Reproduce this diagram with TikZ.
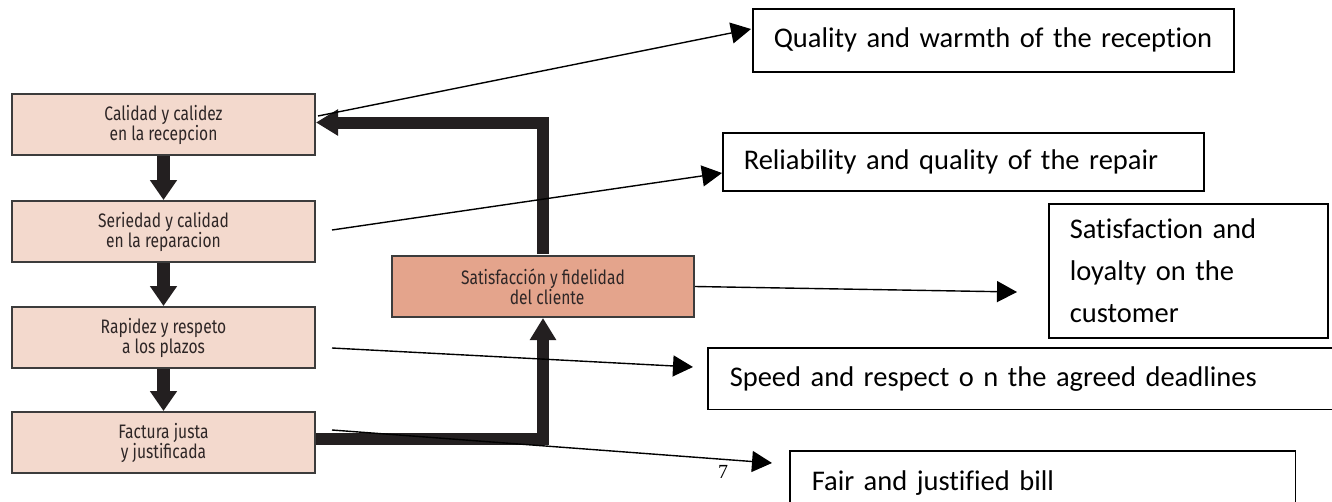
\documentclass[tikz,border=0pt]{standalone}
\usepackage{fontspec}
\setmainfont{Carlito}[Ligatures=NoCommon]
\newfontfamily\dinfont{Fira Sans}[FakeStretch=0.8]
\newfontfamily\numfont{Liberation Serif}
\usetikzlibrary{arrows.meta}
\definecolor{lbox}{HTML}{F3D9CD}
\definecolor{cbox}{HTML}{E4A48C}
\definecolor{dtext}{HTML}{2E2626}
\definecolor{thickc}{HTML}{231F20}
\definecolor{lborder}{HTML}{3C3C3C}
\begin{document}
\begin{tikzpicture}[x=1pt,y=-1pt,
  lstep/.style={draw=lborder,line width=2pt,fill=lbox,minimum width=303pt,minimum height=61pt,
    anchor=north west,align=center,inner sep=0pt,text=dtext,
    font=\dinfont\fontsize{19.5}{20}\selectfont},
  cstep/.style={lstep,fill=cbox,minimum width=302pt},
  rbox/.style={draw=black,line width=1.5pt,anchor=north west,align=left,inner xsep=21pt,inner ysep=0pt,
    font=\fontsize{28.5}{35}\selectfont},
  rboxopen/.style={rbox,draw=none},
  flow/.style={draw=thickc,line width=13pt,-{Triangle[length=20pt,width=26pt]}},
  loop/.style={draw=thickc,line width=12pt,line join=miter,-{Triangle[length=22pt,width=25pt]}},
  thin/.style={draw=black,line width=1.4pt,-{Triangle[length=20pt,width=21pt]}}
]
\useasboundingbox (0,0) rectangle (1332,501);
\fill[white] (0,0) rectangle (1332,501);

% left chain
\node[lstep] (b1) at (11,93)  {Calidad y calidez\\en la recepcion};
\node[lstep] (b2) at (11,200) {Seriedad y calidad\\en la reparacion};
\node[lstep] (b3) at (11,306) {Rapidez y respeto\\a los plazos};
\node[lstep] (b4) at (11,411) {Factura justa\\y justificada};
\node[cstep] (c)  at (391,255) {Satisfacción y fidelidad\\\ \ del cliente};

\draw[flow] (b1.south) -- (b2.north);
\draw[flow] (b2.south) -- (b3.north);
\draw[flow] (b3.south) -- (b4.north);
\draw[loop] ([yshift=1pt]c.north) |- ([yshift=2pt]b1.east);
\draw[loop] ([yshift=4pt]b4.east) -| (c.south);

% right boxes
\node[rbox,minimum width=481pt,minimum height=63pt,text width=439pt] (q) at (752,8)
  {Quality and warmth of the reception};
\node[rbox,minimum width=481pt,minimum height=58pt,text width=439pt] (r) at (722,132)
  {Reliability and quality of the repair};
\node[rbox,minimum width=279pt,minimum height=134pt,text width=237pt,inner xsep=20pt,
  font=\fontsize{28.5}{42}\selectfont] (sat) at (1048,203)
  {Satisfaction and\\loyalty on the\\customer};
\node[rboxopen,minimum width=640pt,minimum height=60pt,text width=598pt] (sp) at (708,348)
  {Speed and respect o n the agreed deadlines};
\draw[line width=1.5pt] (sp.north east) -- (sp.north west) -- (sp.south west) -- (sp.south east);
\node[rboxopen,minimum width=504pt,text width=462pt,inner ysep=19pt,text height=20pt,text depth=6pt] (fb) at (790,451)
  {Fair and justified bill};
\draw[line width=1.5pt] (fb.south west) -- (fb.north west) -- (fb.north east) -- (fb.south east);

\node[font=\numfont\fontsize{20}{22}\selectfont,inner sep=0pt] (pg) at (723,472) {7};

% thin connectors
\coordinate (s1) at (318,116); \coordinate (t1) at (751,29);
\coordinate (s2) at (332,230); \coordinate (t2) at (722,173);
\coordinate (t3) at (1017,292);
\coordinate (s4) at (332,348); \coordinate (t4) at (693,367);
\coordinate (s5) at (332,430); \coordinate (t5) at (772,463);
\draw[thin] (s1) -- (t1);
\draw[thin] (s2) -- (t2);
\draw[thin] (c.east) -- (t3);
\draw[thin] (s4) -- (t4);
\draw[thin] (s5) -- (t5);
\end{tikzpicture}
\end{document}
